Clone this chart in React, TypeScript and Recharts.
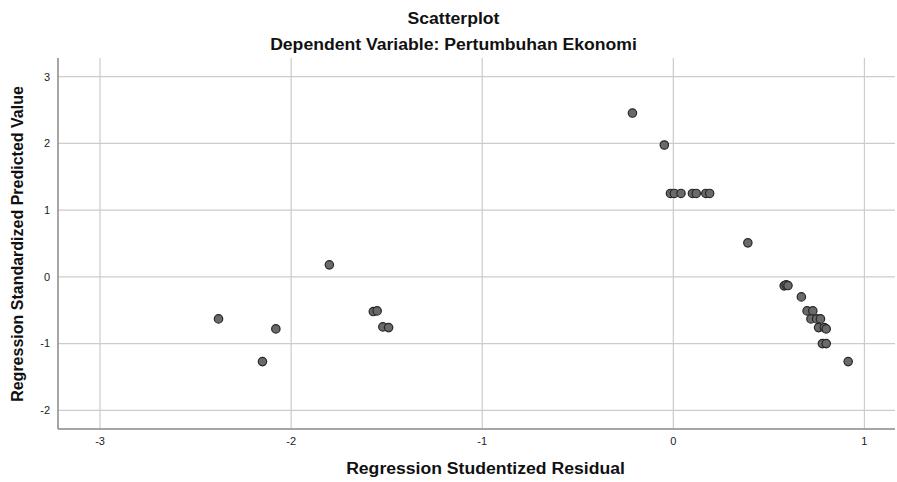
import { ScatterChart, Scatter, XAxis, YAxis, CartesianGrid } from "recharts"

const residuals = [
  -0.214, -0.047, -0.015, 0.005, 0.04, 0.1, 0.12, 0.17, 0.19, 0.39,
  0.58, 0.59, 0.6, 0.67, 0.7, 0.73, 0.72, 0.75, 0.77, 0.76, 0.79, 0.8,
  0.78, 0.8, 0.915, -1.8, -2.38, -2.08, -2.15, -1.57, -1.55, -1.52, -1.49,
]
const predicted = [
  2.455, 1.976, 1.25, 1.25, 1.25, 1.25, 1.25, 1.25, 1.25, 0.51,
  -0.135, -0.12, -0.13, -0.3, -0.51, -0.51, -0.63, -0.63, -0.63, -0.76, -0.76, -0.78,
  -1.0, -1.0, -1.27, 0.18, -0.63, -0.78, -1.27, -0.52, -0.51, -0.75, -0.76,
]
const xTicks = [-3, -2, -1, 0, 1]
const yTicks = [-2, -1, 0, 1, 2, 3]

const points = residuals.map((x, i) => ({ x, y: predicted[i] }))

const font = "'Liberation Sans', Arial, sans-serif"

const Dot = (props: any) => (
  <circle cx={props.cx} cy={props.cy} r={4.2} fill="#6a6a6a" stroke="#262626" strokeWidth={1.2} />
)

// SPSS output is a bit stretched horizontally, so the headings get a small scaleX
const heading = (top: number, left: number): React.CSSProperties => ({
  position: "absolute",
  top,
  left,
  width: 897,
  textAlign: "center",
  fontWeight: "bold",
  fontSize: 16,
  lineHeight: "18px",
  color: "#111",
  transform: "scaleX(1.1)",
})

export default function App() {
  return (
    <div style={{ position: "absolute", left: 0, top: 0, width: 897, height: 482, background: "#fff", fontFamily: font }}>
      <div style={heading(10, 5)}>Scatterplot</div>
      <div style={heading(36, 5)}>Dependent Variable: Pertumbuhan Ekonomi</div>
      <div style={heading(460, 37)}>Regression Studentized Residual</div>
      <div
        style={{
          position: "absolute",
          left: 18,
          top: 244,
          transform: "translate(-50%, -50%) rotate(-90deg)",
          whiteSpace: "nowrap",
          fontWeight: "bold",
          fontSize: 16,
          color: "#111",
        }}
      >
        Regression Standardized Predicted Value
      </div>
      <ScatterChart width={897} height={482} margin={{ top: 58, right: 2, left: 8, bottom: 23 }}>
        <CartesianGrid stroke="#cccccc" strokeWidth={1.2} horizontalValues={yTicks} verticalValues={xTicks} />
        <XAxis
          type="number"
          dataKey="x"
          domain={[-3.22, 1.16]}
          ticks={xTicks}
          allowDataOverflow
          tickLine={false}
          axisLine={{ stroke: "#888", strokeWidth: 1.5 }}
          tick={{ fill: "#222", fontSize: 11, fontFamily: font }}
          height={30}
        />
        <YAxis
          type="number"
          dataKey="y"
          domain={[-2.28, 3.28]}
          ticks={yTicks}
          allowDataOverflow
          tickLine={false}
          axisLine={{ stroke: "#888", strokeWidth: 1.5 }}
          tick={{ fill: "#222", fontSize: 11, fontFamily: font }}
          width={50}
        />
        <Scatter data={points} shape={Dot} isAnimationActive={false} />
      </ScatterChart>
    </div>
  )
}
